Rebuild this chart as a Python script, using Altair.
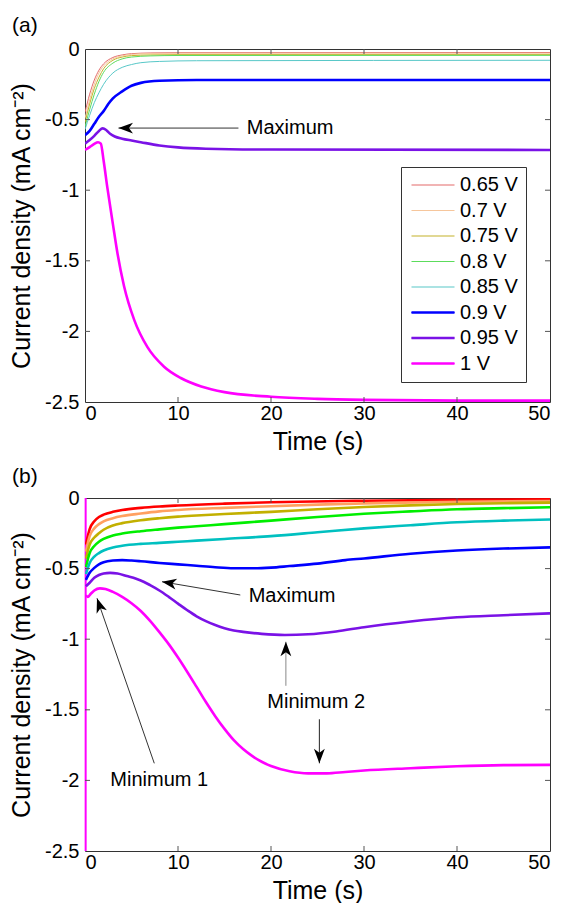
import math
import altair as alt
import pandas as pd

FONT = "Liberation Sans"
W, H = 465, 353

LABELS = ["0.65 V", "0.7 V", "0.75 V", "0.8 V", "0.85 V", "0.9 V", "0.95 V", "1 V"]
COLORS_A = ["#e36a6a", "#f6c69c", "#c4b22a", "#5cdc5c", "#58c8c8", "#0000ff", "#7a12e6", "#ff00ff"]
COLORS_B = ["#ff0000", "#ffa060", "#c2b000", "#00ee00", "#00c0c0", "#0000ff", "#7a12e6", "#ff00ff"]
N_THIN_A = 5  # first five curves of panel (a) are drawn thin

X_TICKS = [0, 10, 20, 30, 40, 50]
Y_TICKS = [0, -0.5, -1, -1.5, -2, -2.5]

# ---------------- panel (a) ----------------
A_T_FAST = [0, 0.5, 1, 1.5, 2, 3, 4, 5, 7, 10, 50]
A_065 = [-0.45, -0.32, -0.22, -0.15, -0.105, -0.06, -0.042, -0.033, -0.028, -0.026, -0.025]
A_070 = [-0.49, -0.36, -0.25, -0.17, -0.12, -0.07, -0.048, -0.038, -0.032, -0.03, -0.03]
A_075 = [-0.52, -0.39, -0.28, -0.2, -0.14, -0.08, -0.057, -0.047, -0.042, -0.04, -0.04]
A_080 = [-0.55, -0.43, -0.32, -0.23, -0.165, -0.1, -0.07, -0.057, -0.049, -0.046, -0.045]
A_085_T = [0, 0.5, 1, 1.5, 2, 3, 4, 5, 6, 8, 12, 50]
A_085 = [-0.57, -0.47, -0.38, -0.31, -0.25, -0.17, -0.13, -0.11, -0.097, -0.088, -0.083, -0.08]
A_090_T = [0, 0.5, 1, 1.5, 2, 2.5, 3, 4, 5, 6, 8, 12, 50]
A_090 = [-0.61, -0.58, -0.53, -0.48, -0.44, -0.39, -0.35, -0.3, -0.26, -0.24, -0.225, -0.22, -0.22]
A_095_T = [0, 0.5, 1, 1.5, 1.9, 2.3, 2.7, 3.2, 4, 5, 6, 8, 10, 13, 20, 50]
A_095 = [-0.67, -0.645, -0.615, -0.58, -0.562, -0.575, -0.6, -0.62, -0.635, -0.648, -0.66,
         -0.683, -0.697, -0.706, -0.712, -0.715]
A_100_T = [0, 0.5, 1, 1.4, 1.7, 2.0, 2.4, 3.0, 3.5, 4.2, 5.3, 6.7, 8.5, 10.3, 12.5, 15, 20, 25, 30, 40, 50]
A_100 = [-0.715, -0.695, -0.672, -0.66, -0.67, -0.79, -0.98, -1.24, -1.45, -1.68, -1.92, -2.11,
         -2.25, -2.33, -2.39, -2.43, -2.463, -2.478, -2.485, -2.49, -2.49]

# ---------------- panel (b) ----------------
B_T_LOW = [0.1, 0.5, 1, 1.5, 2, 3, 4, 6, 8, 10, 15, 20, 30, 40, 50]
B_065 = [-0.33, -0.22, -0.165, -0.135, -0.118, -0.098, -0.085, -0.07, -0.06, -0.053, -0.04, -0.03,
         -0.019, -0.013, -0.01]
B_T_MID = [0.1, 0.5, 1, 1.5, 2, 3, 4, 6, 8, 10, 15, 20, 25, 30, 40, 50]
B_070 = [-0.38, -0.27, -0.215, -0.185, -0.165, -0.143, -0.128, -0.11, -0.095, -0.085, -0.07, -0.058,
         -0.047, -0.038, -0.027, -0.021]
B_T = [0.1, 0.5, 1, 1.5, 2, 3, 4, 6, 8, 10, 12, 15, 20, 25, 30, 35, 40, 45, 50]
B_075 = [-0.43, -0.33, -0.28, -0.25, -0.225, -0.195, -0.178, -0.157, -0.143, -0.132, -0.124, -0.113,
         -0.098, -0.08, -0.064, -0.052, -0.043, -0.037, -0.033]
B_080 = [-0.49, -0.39, -0.34, -0.31, -0.29, -0.265, -0.252, -0.235, -0.222, -0.21, -0.2, -0.185,
         -0.16, -0.135, -0.112, -0.095, -0.08, -0.072, -0.066]
B_085 = [-0.54, -0.46, -0.415, -0.39, -0.372, -0.35, -0.338, -0.325, -0.318, -0.31, -0.302, -0.29,
         -0.27, -0.243, -0.215, -0.193, -0.172, -0.16, -0.152]
B_090_T = [0.1, 0.5, 1, 1.5, 2, 3, 4, 5, 6, 8, 10, 12, 14, 16, 18, 20, 22, 25, 28, 30, 35, 40, 45, 50]
B_090 = [-0.58, -0.53, -0.495, -0.47, -0.455, -0.443, -0.44, -0.443, -0.448, -0.46, -0.47, -0.48,
         -0.49, -0.497, -0.498, -0.493, -0.482, -0.465, -0.44, -0.428, -0.395, -0.372, -0.358, -0.35]
B_095_T = [0.1, 0.5, 1, 1.5, 2, 2.7, 3.5, 4.5, 5.5, 6.3, 7, 8, 9, 10, 11, 12, 13, 14, 15, 16, 17,
           19, 21.5, 24, 27, 30, 35, 40, 45, 50]
B_095 = [-0.625, -0.6, -0.565, -0.545, -0.535, -0.53, -0.535, -0.553, -0.572, -0.593, -0.617,
         -0.655, -0.7, -0.748, -0.795, -0.838, -0.872, -0.9, -0.922, -0.938, -0.948, -0.962,
         -0.97, -0.965, -0.945, -0.915, -0.875, -0.845, -0.83, -0.817]
B_100_T = [0.1, 0.3, 0.6, 1, 1.6, 2.2, 3, 4, 5, 6, 7, 8, 9, 10, 11, 12, 13, 14, 15, 16, 17, 18,
           19, 20, 22, 24, 26, 28, 30, 35, 40, 45, 50]
B_100 = [-0.69, -0.7, -0.68, -0.655, -0.64, -0.645, -0.665, -0.7, -0.745, -0.8, -0.87, -0.95,
         -1.035, -1.13, -1.232, -1.338, -1.445, -1.545, -1.635, -1.715, -1.778, -1.828, -1.868, -1.898,
         -1.935, -1.95, -1.95, -1.94, -1.93, -1.914, -1.9, -1.892, -1.89]
# initial transient of the 1 V curve (vertical spike at t≈0)
B_SPIKE_T = [0.07]
B_SPIKE_TOP = [0.0]
B_SPIKE_BOTTOM = [-2.5]

# ---------------- annotations ----------------
A_ARROWS = {"tail_t": [16.5], "tail_j": [-0.56], "tip_t": [3.6], "tip_j": [-0.56], "color": ["#333333"]}
A_TEXT = {"t": [17.4], "j": [-0.56], "text": ["Maximum"]}
B_ARROWS = {
    "tail_t": [16.7, 7.45, 21.6, 25.2],
    "tail_j": [-0.687, -1.879, -1.33, -1.567],
    "tip_t": [8.28, 1.29, 21.6, 25.2],
    "tip_j": [-0.593, -0.71, -1.018, -1.879],
    "color": ["#333333", "#333333", "#888888", "#222222"],
}
B_TEXT = {"t": [17.6, 21.6 - 2.0, 2.72], "j": [-0.694, -1.447, -1.997],
          "text": ["Maximum", "Minimum 2", "Minimum 1"]}


def series_frame(series):
    rows = []
    for label, ts, js in series:
        for i, (t, j) in enumerate(zip(ts, js)):
            rows.append({"t": t, "j": j, "V": label, "i": i})
    return pd.DataFrame(rows)


df_a = series_frame([
    (LABELS[0], A_T_FAST, A_065), (LABELS[1], A_T_FAST, A_070), (LABELS[2], A_T_FAST, A_075),
    (LABELS[3], A_T_FAST, A_080), (LABELS[4], A_085_T, A_085), (LABELS[5], A_090_T, A_090),
    (LABELS[6], A_095_T, A_095), (LABELS[7], A_100_T, A_100),
])
df_b = series_frame([
    (LABELS[0], B_T_LOW, B_065), (LABELS[1], B_T_MID, B_070), (LABELS[2], B_T, B_075),
    (LABELS[3], B_T, B_080), (LABELS[4], B_T, B_085), (LABELS[5], B_090_T, B_090),
    (LABELS[6], B_095_T, B_095), (LABELS[7], B_100_T, B_100),
])

x_scale = alt.Scale(domain=[0, 50], nice=False, zero=False)
y_scale = alt.Scale(domain=[-2.5, 0], nice=False, zero=False)

x_axis = alt.Axis(values=X_TICKS, title="Time (s)", labelPadding=1, titlePadding=6)
y_axis = alt.Axis(values=Y_TICKS, title="Current density (mA cm\u207B\u00B2)",
                  labelExpr="datum.value == 0 ? '0' : '-' + toString(-datum.value)",
                  labelPadding=6, titlePadding=10)


def arrow_layers(arr):
    df = pd.DataFrame(arr)
    ang = []
    for a, b, c, d in zip(df.tail_t, df.tail_j, df.tip_t, df.tip_j):
        dx = (c - a) * W / 50.0
        dy = -(d - b) * H / 2.5
        ang.append(math.degrees(math.atan2(dx, -dy)) % 360)
    df["angle"] = ang
    line = alt.Chart(df).mark_rule(strokeWidth=1).encode(
        x=alt.X("tail_t:Q", scale=x_scale), y=alt.Y("tail_j:Q", scale=y_scale),
        x2="tip_t:Q", y2="tip_j:Q", color=alt.Color("color:N", scale=None, legend=None))
    head = alt.Chart(df).mark_point(
        shape="M0,0L0.75,2L0,1.45L-0.75,2Z", size=210, filled=True, opacity=1,
        fill="black", strokeWidth=0).encode(
        x=alt.X("tip_t:Q", scale=x_scale), y=alt.Y("tip_j:Q", scale=y_scale),
        angle=alt.Angle("angle:Q", scale=None))
    return [line, head]


def tick_layers():
    xt = pd.DataFrame({"t": X_TICKS[1:-1]})
    yt = pd.DataFrame({"j": Y_TICKS[1:-1]})
    c = "#555555"
    return [
        alt.Chart(xt).mark_rule(color=c).encode(x=alt.X("t:Q", scale=x_scale), y=alt.value(H), y2=alt.value(H - 5)),
        alt.Chart(xt).mark_rule(color=c).encode(x=alt.X("t:Q", scale=x_scale), y=alt.value(0), y2=alt.value(5)),
        alt.Chart(yt).mark_rule(color=c).encode(y=alt.Y("j:Q", scale=y_scale), x=alt.value(0), x2=alt.value(5)),
        alt.Chart(yt).mark_rule(color=c).encode(y=alt.Y("j:Q", scale=y_scale), x=alt.value(W - 5), x2=alt.value(W)),
    ]


def text_layer(d):
    return alt.Chart(pd.DataFrame(d)).mark_text(
        align="left", baseline="middle", font=FONT, fontSize=20, color="black").encode(
        x=alt.X("t:Q", scale=x_scale), y=alt.Y("j:Q", scale=y_scale), text="text:N")


LEG_X, LEG_Y, LEG_PAD, LEG_ROW_PAD, LEG_FONT = 316, 118, 8, 5.5, 20
common_legend = dict(
    orient="none", legendX=LEG_X, title=None, symbolType="M-4.3,0H4.3", symbolSize=100,
    labelFont=FONT, labelFontSize=LEG_FONT, labelColor="black", padding=LEG_PAD,
    rowPadding=LEG_ROW_PAD, labelOffset=17, symbolOffset=14, labelLimit=200)
# full legend (all entries, thin symbols, with frame)
legend_thin = alt.Legend(legendY=LEG_Y, strokeColor="#333333", fillColor="white",
                         symbolStrokeWidth=1.2, **common_legend)
# thick symbols laid over the last three entries
legend_thick = alt.Legend(legendY=LEG_Y + N_THIN_A * (LEG_FONT + LEG_ROW_PAD),
                          symbolStrokeWidth=2.6, labelOpacity=0, **common_legend)

thin_labels = LABELS[:N_THIN_A]
thick_labels = LABELS[N_THIN_A:]

lines_a_thin = alt.Chart(df_a[df_a.V.isin(thin_labels)]).mark_line(
    clip=True, interpolate="monotone", strokeWidth=1).encode(
    x=alt.X("t:Q", scale=x_scale, axis=x_axis),
    y=alt.Y("j:Q", scale=y_scale, axis=y_axis),
    color=alt.Color("V:N", scale=alt.Scale(domain=LABELS, range=COLORS_A), legend=legend_thin, sort=LABELS),
    order="i:Q",
)
lines_a_thick = alt.Chart(df_a[df_a.V.isin(thick_labels)]).mark_line(
    clip=True, interpolate="monotone", strokeWidth=2.6).encode(
    x=alt.X("t:Q", scale=x_scale, axis=x_axis),
    y=alt.Y("j:Q", scale=y_scale, axis=y_axis),
    color=alt.Color("V:N", scale=alt.Scale(domain=thick_labels, range=COLORS_A[N_THIN_A:]),
                    legend=legend_thick, sort=thick_labels),
    order="i:Q",
)

panel_a = alt.layer(lines_a_thin, lines_a_thick, *arrow_layers(A_ARROWS), text_layer(A_TEXT),
                    *tick_layers()).resolve_scale(color="independent").properties(
    width=W, height=H,
    title=alt.TitleParams("(a)", anchor="start", frame="group", dx=-73, fontSize=21, font=FONT,
                          fontWeight="normal", color="black", offset=3),
)

spike = alt.Chart(pd.DataFrame({"t": B_SPIKE_T, "j": B_SPIKE_TOP, "j2": B_SPIKE_BOTTOM})).mark_rule(
    color="#ff00ff", strokeWidth=2).encode(
    x=alt.X("t:Q", scale=x_scale), y=alt.Y("j:Q", scale=y_scale), y2="j2:Q")

lines_b = alt.Chart(df_b).mark_line(clip=True, interpolate="monotone", strokeWidth=2.6).encode(
    x=alt.X("t:Q", scale=x_scale, axis=x_axis),
    y=alt.Y("j:Q", scale=y_scale, axis=y_axis),
    color=alt.Color("V:N", scale=alt.Scale(domain=LABELS, range=COLORS_B), legend=None, sort=LABELS),
    order="i:Q",
)

panel_b = alt.layer(spike, lines_b, *arrow_layers(B_ARROWS), text_layer(B_TEXT), *tick_layers()).properties(
    width=W, height=H,
    title=alt.TitleParams("(b)", anchor="start", frame="group", dx=-73, fontSize=21, font=FONT,
                          fontWeight="normal", color="black", offset=1),
)

chart = alt.vconcat(panel_a, panel_b, spacing=10).resolve_scale(
    color="independent"
).properties(
    padding={"left": 1, "top": 6, "right": 0, "bottom": 0}
).configure_view(stroke="#333333", strokeWidth=1).configure_axis(
    labelFont=FONT, labelFontSize=20, labelColor="black", titleFont=FONT, titleFontSize=25,
    titleFontWeight="normal", titleColor="black", tickSize=0, domain=False, grid=False,
)

chart.save("out.html", embed_options={"renderer": "svg", "actions": False})
